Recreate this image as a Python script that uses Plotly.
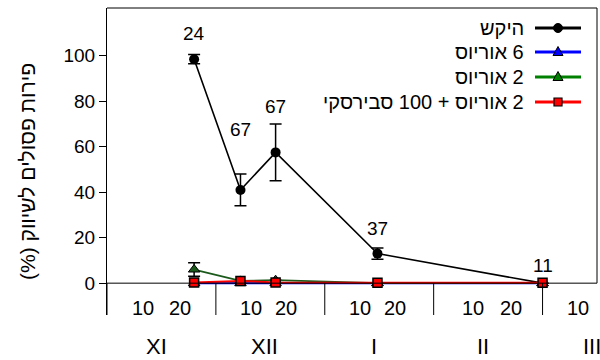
import plotly.graph_objects as go

# ---- data -------------------------------------------------------------
MONTHS = ["XI", "XII", "I", "II", "III"]
MONTH_DAYS = [30, 31, 31, 28, 31]
DAY_TICKS = ["10", "20"]

# sampling dates: month index (0 = November) and day of month
sample_month = [0, 1, 1, 2, 3]
sample_day = [24, 7, 17, 15, 28]

series_names = ["היקש", "6 אוריוס", "2 אוריוס", "2 אוריוס + 100 סבירסקי"]
control = [98.5, 41, 57.5, 13, 0]
control_err = [2, 7, 12.5, 2.5, 0]
orius6 = [0, 0, 0, 0, 0]
orius2 = [6, 1, 1.3, 0, 0]
orius2_err = [3, 0, 0, 0, 0]
orius2_sw = [0.3, 1, 0.3, 0.2, 0.2]
n_labels = ["24", "67", "67", "37", "11"]

# ---- layout constants ---------------------------------------------------
W, H = 600, 360
ML, MR, MT, MB = 107, 3, 8, 45
PW, PH = W - ML - MR, H - MT - MB
X_RANGE = [0, 4.5]
Y_RANGE = [-14, 121]
FONT = "Liberation Sans, Arial, sans-serif"
FS = 19
FS_DAY = 20
FS_MONTH = 22
FS_LEGEND = 20
FS_TITLE = 21
RLM = "\u200f"

COLORS = ["black", "#0000ff", "#1c5a1c", "#ff0000"]
KEY_COLORS = ["black", "#0000ff", "#008000", "#ff0000"]
label_shift = [21, 45, 17, 19, 18]


def month_pos(m, d):
    return m + d / MONTH_DAYS[m]


def paper_x(px):
    return (px - ML) / PW


def paper_y(py):
    return (H - MB - py) / PH


x = [month_pos(m, d) for m, d in zip(sample_month, sample_day)]

fig = go.Figure()

fig.add_trace(go.Scatter(
    x=x, y=control, mode="lines+markers", name=series_names[0],
    line=dict(color=COLORS[0], width=1.6),
    marker=dict(symbol="circle", size=10, color="black"),
    error_y=dict(type="data", array=control_err, color="black",
                 thickness=1.5, width=6),
))
fig.add_trace(go.Scatter(
    x=x, y=orius6, mode="lines+markers", name=series_names[1],
    line=dict(color=COLORS[1], width=2),
    marker=dict(symbol="triangle-up", size=10, color=COLORS[1],
                line=dict(color="black", width=1)),
))
fig.add_trace(go.Scatter(
    x=x, y=orius2, mode="lines+markers", name=series_names[2],
    line=dict(color=COLORS[2], width=1.8),
    marker=dict(symbol="triangle-up", size=10, color=COLORS[2],
                line=dict(color="black", width=1)),
    error_y=dict(type="data", array=orius2_err, color="black",
                 thickness=1.5, width=6),
))
fig.add_trace(go.Scatter(
    x=x, y=orius2_sw, mode="lines+markers", name=series_names[3],
    line=dict(color=COLORS[3], width=2),
    marker=dict(symbol="square", size=9, color=COLORS[3],
                line=dict(color="black", width=1.5)),
))

shapes = []
line_style = dict(color="black", width=1)
# frame above the zero line
shapes.append(dict(type="line", xref="paper", yref="paper", x0=0, x1=1,
                   y0=1, y1=1, line=line_style))
shapes.append(dict(type="line", xref="paper", yref="y", x0=1, x1=1,
                   y0=0, y1=Y_RANGE[1], line=line_style))
shapes.append(dict(type="line", xref="paper", yref="y", x0=0, x1=1,
                   y0=0, y1=0, line=line_style))
# month separators below the zero line
for m in range(len(MONTHS)):
    shapes.append(dict(type="line", xref="x", yref="y", x0=m, x1=m,
                       y0=Y_RANGE[0], y1=0, line=line_style))

annotations = []
# day-of-month and month labels
for m, name in enumerate(MONTHS):
    days = DAY_TICKS if m < len(MONTHS) - 1 else DAY_TICKS[:1]
    for d in days:
        annotations.append(dict(
            x=month_pos(m, int(d)), y=paper_y(308), xref="x", yref="paper",
            text=d, showarrow=False, xanchor="center", yanchor="middle",
            font=dict(size=FS_DAY, color="black", family=FONT)))
    annotations.append(dict(
        x=m + 0.45, y=paper_y(346), xref="x", yref="paper",
        text=name, showarrow=False, xanchor="center", yanchor="middle",
        font=dict(size=FS_MONTH, color="black", family=FONT)))

# sample-size labels above the control series
for xi, yi, ei, lab, sh in zip(x, control, control_err, n_labels, label_shift):
    annotations.append(dict(
        x=xi, y=yi + ei, xref="x", yref="y", text=lab, showarrow=False,
        xanchor="center", yanchor="middle", yshift=sh,
        font=dict(size=FS, color="black", family=FONT)))

# y-axis title
annotations.append(dict(
    x=paper_x(27), y=paper_y(172), xref="paper", yref="paper",
    text=RLM + "פירות פסולים לשיווק (%)" + RLM, textangle=-90,
    showarrow=False, xanchor="center", yanchor="middle",
    font=dict(size=FS_TITLE, color="black", family=FONT)))

# legend: text on the left, key on the right
row_y = [28, 52, 77, 102]
key_x0, key_x1, key_mid, text_right = 535, 581, 558, 526
symbols = ["circle", "triangle", "triangle", "square"]
for name, col, sym, py in zip(series_names, KEY_COLORS, symbols, row_y):
    yy = paper_y(py)
    shapes.append(dict(type="line", xref="paper", yref="paper",
                       x0=paper_x(key_x0), x1=paper_x(key_x1), y0=yy, y1=yy,
                       line=dict(color=col, width=3)))
    anchor = dict(xref="paper", yref="paper", xsizemode="pixel",
                  ysizemode="pixel", xanchor=paper_x(key_mid), yanchor=yy)
    if sym == "circle":
        shapes.append(dict(type="circle", x0=-4.5, x1=4.5, y0=-4.5, y1=4.5,
                           fillcolor="black", line=dict(color="black", width=1),
                           **anchor))
    elif sym == "triangle":
        shapes.append(dict(type="path", path="M-5,-3.5 L5,-3.5 L0,5.5 Z",
                           fillcolor=col, line=dict(color="black", width=1),
                           **anchor))
    else:
        shapes.append(dict(type="rect", x0=-4, x1=4, y0=-4, y1=4,
                           fillcolor=col, line=dict(color="black", width=1.2),
                           **anchor))
    annotations.append(dict(
        x=paper_x(text_right), y=yy, xref="paper", yref="paper",
        text=RLM + name, showarrow=False, xanchor="right", yanchor="middle",
        font=dict(size=FS_LEGEND, color="black", family=FONT)))

fig.update_layout(
    width=W, height=H,
    margin=dict(l=ML, r=MR, t=MT, b=MB, pad=0),
    paper_bgcolor="white", plot_bgcolor="white",
    showlegend=False,
    font=dict(family=FONT, size=FS, color="black"),
    xaxis=dict(range=X_RANGE, visible=False, showgrid=False, zeroline=False),
    yaxis=dict(range=Y_RANGE, tickvals=[0, 20, 40, 60, 80, 100],
               ticks="outside", ticklen=7, tickwidth=1, tickcolor="black",
               showline=True, linecolor="black", linewidth=1,
               showgrid=False, zeroline=False,
               tickfont=dict(size=FS, color="black", family=FONT)),
    shapes=shapes, annotations=annotations,
)

fig.write_html("out.html")
